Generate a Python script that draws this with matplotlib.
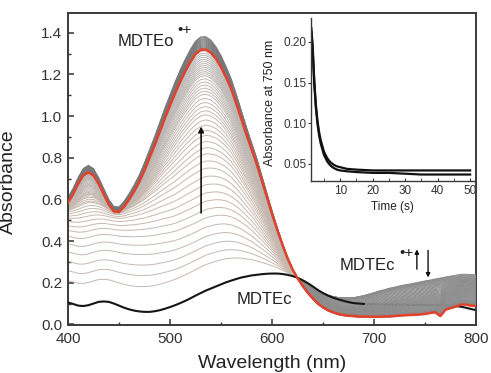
import numpy as np
import matplotlib
matplotlib.use('Agg')
import matplotlib.pyplot as plt
from matplotlib.ticker import MultipleLocator

plt.rcParams['font.family'] = ['Liberation Sans', 'DejaVu Sans']

# wavelength grid (nm)
wavelength = np.arange(400, 801, 5)

# final MDTEo radical cation spectrum (red)
red_final = [0.585, 0.625, 0.675, 0.715, 0.730, 0.715, 0.675, 0.625, 0.575, 0.542,
             0.540, 0.565, 0.600, 0.640, 0.685, 0.740, 0.800, 0.860, 0.925, 0.990,
             1.050, 1.110, 1.165, 1.215, 1.260, 1.298, 1.318, 1.320, 1.305, 1.275,
             1.235, 1.185, 1.130, 1.060, 0.985, 0.910, 0.840, 0.770, 0.690, 0.610,
             0.530, 0.455, 0.385, 0.320, 0.265, 0.222, 0.185, 0.152, 0.125, 0.100,
             0.082, 0.068, 0.058, 0.050, 0.045, 0.042, 0.040, 0.038, 0.037, 0.037,
             0.036, 0.037, 0.038, 0.038, 0.040, 0.042, 0.044, 0.045, 0.046, 0.048,
             0.050, 0.055, 0.058, 0.040, 0.070, 0.078, 0.085, 0.095, 0.095, 0.090,
             0.088]

# MDTEc spectrum (black)
mdtec = [0.105, 0.098, 0.090, 0.088, 0.092, 0.100, 0.108, 0.110, 0.108, 0.100,
         0.090, 0.080, 0.072, 0.066, 0.062, 0.060, 0.060, 0.063, 0.068, 0.075,
         0.083, 0.092, 0.102, 0.113, 0.125, 0.138, 0.150, 0.162, 0.172, 0.182,
         0.192, 0.202, 0.210, 0.218, 0.225, 0.230, 0.235, 0.238, 0.241, 0.243,
         0.244, 0.244, 0.242, 0.238, 0.232, 0.224, 0.212, 0.198, 0.182, 0.165,
         0.150, 0.138, 0.128, 0.120, 0.113, 0.107, 0.102, 0.100, 0.098, 0.097,
         0.096, 0.096, 0.095, 0.095, 0.094, 0.094, 0.094, 0.093, 0.093, 0.093,
         0.093, 0.092, 0.092, 0.092, 0.091, 0.090, 0.088, 0.085, 0.080, 0.074,
         0.068]

# baseline lift of the early spectra (left of the isosbestic point)
offset_shape = ([1.0, 1.0, 1.0, 1.0, 1.0, 1.0, 1.0, 1.01, 1.02, 1.04,
                 1.06, 1.08, 1.10, 1.11, 1.12, 1.12, 1.12, 1.11, 1.10, 1.08,
                 1.06, 1.04, 1.03, 1.02, 1.01, 1.0, 1.0, 1.0, 0.99, 0.98,
                 0.96, 0.93, 0.89, 0.84, 0.78, 0.71, 0.64, 0.56, 0.48, 0.40,
                 0.32, 0.24, 0.16, 0.09, 0.04, 0.0] +
                [0.0] * 35)

# MDTEc radical cation band above 640 nm
band_shape = ([0.0] * 49 +
              [0.0, 0.002, 0.004, 0.007, 0.011, 0.016, 0.022, 0.028, 0.035, 0.042,
               0.050, 0.058, 0.066, 0.073, 0.080, 0.086, 0.092, 0.097, 0.102, 0.107,
               0.112, 0.117, 0.122, 0.127, 0.132, 0.137, 0.142, 0.148, 0.155, 0.160,
               0.165, 0.170])

# absorbance of each grey spectrum at 530 nm
peak530 = [0.275, 0.32, 0.365, 0.41, 0.455, 0.50, 0.54, 0.58, 0.62, 0.66, 0.70, 0.74, 0.775, 0.81,
           0.84, 0.87, 0.90, 0.925, 0.95, 0.975, 1.0, 1.02, 1.04, 1.06, 1.08, 1.10, 1.115, 1.13,
           1.145, 1.16, 1.175, 1.19, 1.20, 1.21, 1.22, 1.23, 1.24, 1.25, 1.26, 1.27, 1.28, 1.29,
           1.30, 1.31,
           1.325, 1.33, 1.335, 1.34, 1.345, 1.35, 1.355, 1.36, 1.365, 1.37, 1.375, 1.38]
lift = [0.09, 0.14, 0.185, 0.23, 0.265, 0.295, 0.315, 0.325, 0.33, 0.33, 0.32, 0.31, 0.30, 0.29,
        0.27, 0.255, 0.24, 0.225, 0.21, 0.19, 0.17, 0.16, 0.15, 0.14, 0.13, 0.12, 0.11, 0.10,
        0.095, 0.09, 0.085, 0.08, 0.07, 0.065, 0.06, 0.05, 0.045, 0.04, 0.035, 0.03, 0.02, 0.015,
        0.01, 0.005,
        0, 0, 0, 0, 0, 0, 0, 0, 0, 0, 0, 0]
band = [1.0, 0.98, 0.96, 0.94, 0.92, 0.90, 0.88, 0.86, 0.84, 0.82, 0.80, 0.78, 0.76, 0.74,
        0.72, 0.70, 0.68, 0.66, 0.64, 0.62, 0.60, 0.58, 0.56, 0.54, 0.52, 0.50, 0.48, 0.46,
        0.44, 0.42, 0.40, 0.38, 0.36, 0.34, 0.32, 0.30, 0.28, 0.26, 0.24, 0.22, 0.20, 0.18,
        0.16, 0.14,
        0.12, 0.11, 0.10, 0.09, 0.08, 0.07, 0.06, 0.05, 0.04, 0.03, 0.02, 0.0]

# inset: absorbance at 750 nm vs time
time_s = [1.1, 1.5, 2.0, 2.5, 3.0, 3.5, 4.0, 5.0, 6.0, 7.0, 8.0, 9.0, 10, 12, 15, 20, 25, 30, 35, 40, 45, 50]
abs750_hi = [0.217, 0.196, 0.153, 0.123, 0.103, 0.089, 0.079, 0.065, 0.057, 0.052, 0.049, 0.047,
             0.046, 0.044, 0.043, 0.042, 0.042, 0.042, 0.042, 0.042, 0.042, 0.042]
abs750_lo = [0.213, 0.192, 0.149, 0.119, 0.099, 0.085, 0.075, 0.061, 0.053, 0.048, 0.045, 0.043,
             0.042, 0.041, 0.040, 0.039, 0.039, 0.038, 0.037, 0.037, 0.037, 0.037]

red = np.array(red_final)
blk = np.array(mdtec)
E = np.array(offset_shape)
R = np.array(band_shape)
wl = list(wavelength)
i530 = wl.index(530)
iiso = wl.index(625)
i690 = wl.index(690)

fig = plt.figure(figsize=(4.91, 3.73), dpi=100)
ax = fig.add_axes([0.1385, 0.1287, 0.831, 0.8365])

n = len(peak530)
light = np.array([0.78, 0.72, 0.68])
mid = np.array([0.72, 0.72, 0.72])
dark = np.array([0.47, 0.47, 0.47])
for k in range(n):
    a = (peak530[k] - blk[i530] - lift[k] * E[i530]) / (red[i530] - blk[i530])
    spec = blk + a * (red - blk) + lift[k] * E + band[k] * R
    if k < 14:
        col = light
    elif k < 44:
        t = (k - 14) / 30.0
        col = light * (1 - t) + mid * t
    else:
        col = dark
    ax.plot(wavelength[:iiso + 1], spec[:iiso + 1], color=col, lw=0.7, zorder=2)
    ax.plot(wavelength[iiso:], spec[iiso:], color='#8c8c8c', lw=0.7, zorder=3)

ax.plot(wavelength[i690:], blk[i690:], color='#151515', lw=1.5, zorder=1.5)
ax.plot(wavelength[:i690 + 1], blk[:i690 + 1], color='#151515', lw=1.5, zorder=4)
ax.plot(wavelength, red, color='#e2412b', lw=1.8, zorder=5)

ax.annotate('', xy=(530.5, 0.95), xytext=(530.5, 0.535),
            arrowprops=dict(arrowstyle='-|>', color='#111111', lw=1.2,
                            mutation_scale=8, shrinkA=0, shrinkB=0), zorder=6)
ax.annotate('', xy=(742, 0.36), xytext=(742, 0.265),
            arrowprops=dict(arrowstyle='-|>', color='#111111', lw=1.0,
                            mutation_scale=6, shrinkA=0, shrinkB=0), zorder=6)
ax.annotate('', xy=(753, 0.225), xytext=(753, 0.355),
            arrowprops=dict(arrowstyle='-|>', color='#111111', lw=1.0,
                            mutation_scale=6, shrinkA=0, shrinkB=0), zorder=6)

ax.text(449, 1.338, 'MDTEo', fontsize=12, color='#222222', va='baseline')
ax.text(507, 1.395, '\u2022+', fontsize=11, color='#222222', va='baseline')
ax.text(666, 0.259, 'MDTEc', fontsize=12, color='#222222', va='baseline')
ax.text(724.5, 0.325, '\u2022+', fontsize=11, color='#222222', va='baseline')
ax.text(565.5, 0.10, 'MDTEc', fontsize=12, color='#222222', va='baseline')

ax.set_xlim(400, 800)
ax.set_ylim(-0.003, 1.495)
ax.xaxis.set_major_locator(MultipleLocator(100))
ax.xaxis.set_minor_locator(MultipleLocator(50))
ax.yaxis.set_minor_locator(MultipleLocator(0.1))
ax.set_yticks(np.arange(0, 1.41, 0.2))
ax.set_yticklabels(['0.0', '0.2', '0.4', '0.6', '0.8', '1.0', '1.2', '1.4'])
ax.tick_params(which='both', direction='in', colors='#333333', labelsize=11)
ax.tick_params(which='major', length=4, width=1.1)
ax.tick_params(which='minor', length=2.5, width=1.0)
ax.tick_params(axis='x', pad=5)
ax.tick_params(axis='y', pad=4)
for s in ax.spines.values():
    s.set_color('#3a3a3a')
    s.set_linewidth(1.4)
ax.set_xlabel('Wavelength (nm)', fontsize=14, color='#222222')
ax.set_ylabel('Absorbance', fontsize=14, color='#222222')
ax.xaxis.set_label_coords(0.5, -0.095)
ax.yaxis.set_label_coords(-0.125, 0.46)

# inset
ins = fig.add_axes([0.6334, 0.5147, 0.332, 0.437])
ins.plot(time_s, abs750_hi, color='#111111', lw=1.6)
ins.plot(time_s, abs750_lo, color='#111111', lw=1.6)
ins.set_xlim(1, 51.2)
ins.set_ylim(0.029, 0.2295)
ins.set_xticks([10, 20, 30, 40, 50])
ins.set_yticks([0.05, 0.10, 0.15, 0.20])
ins.set_yticklabels(['0.05', '0.10', '0.15', '0.20'])
ins.xaxis.set_minor_locator(MultipleLocator(5))
ins.tick_params(axis='x', which='both', direction='in', length=2.5, colors='#333333', labelsize=8.5, pad=3)
ins.tick_params(axis='y', direction='out', length=2, colors='#333333', labelsize=8.5, pad=1)
ins.spines['top'].set_visible(False)
ins.spines['right'].set_visible(False)
for s in ['left', 'bottom']:
    ins.spines[s].set_color('#3a3a3a')
    ins.spines[s].set_linewidth(1.0)
ins.set_xlabel('Time (s)', fontsize=8.5, color='#222222', labelpad=3)
ins.set_ylabel('Absorbance at 750 nm', fontsize=9, color='#222222')
ins.yaxis.set_label_coords(-0.215, 0.48)

fig.savefig('out.png', dpi=100)
